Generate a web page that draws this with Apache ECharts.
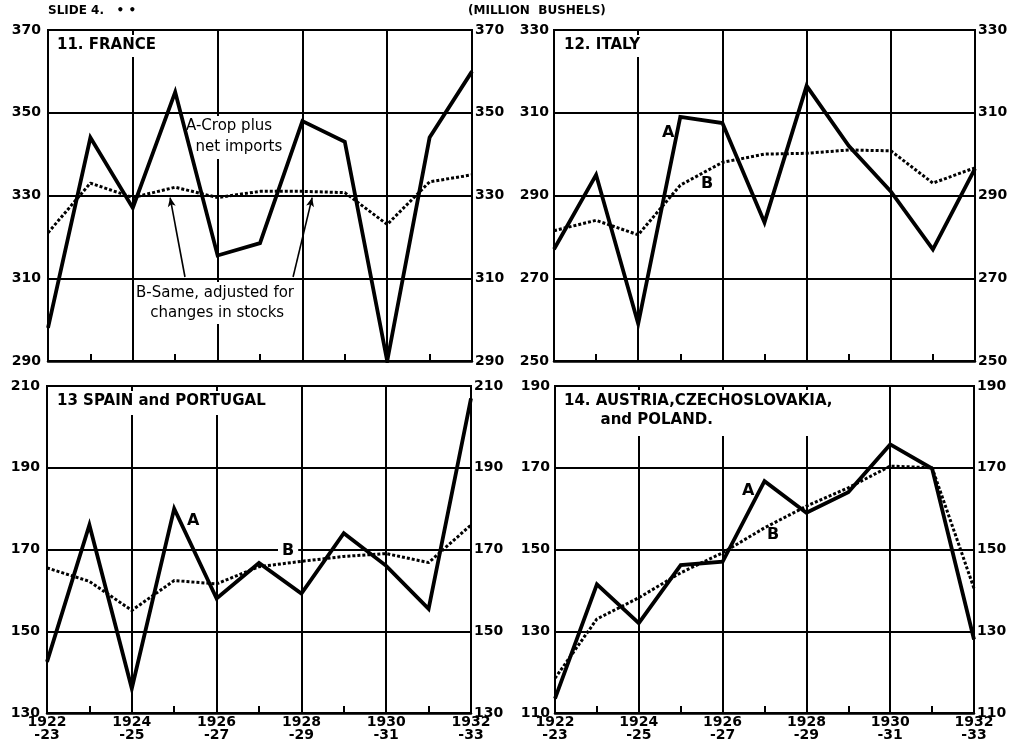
<!DOCTYPE html>
<html>
<head>
<meta charset="utf-8">
<script src="https://cdn.jsdelivr.net/npm/echarts@6/dist/echarts.min.js"></script>
<style>
html,body{margin:0;padding:0;background:#fff;}
#c{width:1022px;height:751px;}
</style>
</head>
<body>
<div id="c"></div>
<script>
// ---- data ----
const years = [1922,1923,1924,1925,1926,1927,1928,1929,1930,1931,1932];
const tickYears = [1922,1924,1926,1928,1930,1932];
const tickLabels = ['1922\n-23','1924\n-25','1926\n-27','1928\n-29','1930\n-31','1932\n-33'];

const franceA  = [298,344,327,355,315.5,318.5,348,343,290,344,360];
const franceB  = [321,333,329.5,332,329.5,331,331,330.7,323,333.3,335];
const italyA   = [277,295,259,309,307.5,283.5,316.5,302,291,277,296.5];
const italyB   = [281.5,284,280.5,292.5,298,300,300.2,301,300.8,293,296.7];
const spainA   = [142.5,176,136,180,158,166.7,159.2,174,166,155.5,207];
const spainB   = [165.5,162.2,155.1,162.4,161.6,165.8,167.1,168.3,169,166.8,176];
const austriaA = [113.5,141.5,132,146.2,147,166.7,159,164,175.7,169.8,128];
const austriaB = [118.5,133,138.2,144.3,149.2,155.3,160.6,165.1,170.4,170,140.5];

const yMins = [290,250,130,110];
const yMaxs = [370,330,210,190];
const yStep = 20;

// ---- layout ----
const grids = [
  {left:48, top:30, width:424, height:331},
  {left:554, top:30, width:421, height:331},
  {left:47, top:386, width:424, height:327},
  {left:555, top:386, width:419, height:327}
];
const FONT = 'DejaVu Sans';
const seriesA = [franceA, italyA, spainA, austriaA];
const seriesB = [franceB, italyB, spainB, austriaB];

const pairs = arr => years.map((y,i)=>[y,arr[i]]);

const option = {
  animation:false,
  backgroundColor:'#fff',
  grid: grids.map(g=>Object.assign({show:true, borderColor:'#000', borderWidth:2, backgroundColor:'transparent'}, g)),
  xAxis: grids.map((g,i)=>({
    type:'value', gridIndex:i, min:1922, max:1932, interval:2,
    axisLine:{show:true, lineStyle:{color:'#000', width:2.5}},
    axisTick:{show:true, inside:true, length:7, lineStyle:{color:'#000', width:2}},
    minorTick:{show:true, splitNumber:2, length:7, lineStyle:{color:'#000', width:2}},
    splitLine:{show:true, lineStyle:{color:'#000', width:2}},
    axisLabel:{
      show: i>=2, margin:3, color:'#000', fontFamily:FONT, fontWeight:'bold', fontSize:14, lineHeight:13,
      formatter: v => { const k = tickYears.indexOf(v); return k>=0 ? tickLabels[k] : ''; }
    }
  })),
  yAxis: [].concat(...grids.map((g,i)=>[
    {
      type:'value', gridIndex:i, position:'left', min:yMins[i], max:yMaxs[i], interval:yStep,
      axisLine:{show:true, lineStyle:{color:'#000', width:2}},
      axisTick:{show:false},
      splitLine:{show:true, lineStyle:{color:'#000', width:2}},
      axisLabel:{margin:(i%2===0)?7:5, color:'#000', fontFamily:FONT, fontWeight:'bold', fontSize:14}
    },
    {
      type:'value', gridIndex:i, position:'right', min:yMins[i], max:yMaxs[i], interval:yStep,
      axisLine:{show:true, lineStyle:{color:'#000', width:2}},
      axisTick:{show:false},
      splitLine:{show:false},
      axisLabel:{margin:3, color:'#000', fontFamily:FONT, fontWeight:'bold', fontSize:14}
    }
  ])),
  series: [].concat(...grids.map((g,i)=>{
    const bSeries = {
      name:'B'+i, type:'line', xAxisIndex:i, yAxisIndex:i*2, data:pairs(seriesB[i]),
      symbol:'none', z:3,
      lineStyle:{color:'#000', width:3, type:[3,2]}
    };
    if(i===0){
      bSeries.markLine = {
        silent:true, symbol:['none','arrow'], symbolSize:[6,9],
        label:{show:false},
        lineStyle:{color:'#000', width:1.6, type:'solid'},
        data:[
          [{coord:[1925.23,310.3]},{coord:[1924.88,329.5]}],
          [{coord:[1927.78,310.3]},{coord:[1928.23,329.5]}]
        ]
      };
    }
    return [
      bSeries,
      {
        name:'A'+i, type:'line', xAxisIndex:i, yAxisIndex:i*2, data:pairs(seriesA[i]),
        symbol:'none', z:4,
        lineStyle:{color:'#000', width:3.8, join:'miter'}
      }
    ];
  })),
  graphic: [
    {type:'text', left:48, top:5, z:5, style:{text:'SLIDE 4.   • •', fill:'#000', font:'bold 12px "DejaVu Sans"'}},
    {type:'text', left:468, top:5, z:5, style:{text:'(MILLION  BUSHELS)', fill:'#000', font:'bold 12px "DejaVu Sans"'}},
    // panel titles
    {type:'text', left:54, top:35, z:1, style:{text:'11. FRANCE', fill:'#000', font:'bold 15px "DejaVu Sans"', backgroundColor:'#fff', padding:[3,3,4,3]}},
    {type:'text', left:561, top:35, z:1, style:{text:'12. ITALY', fill:'#000', font:'bold 15px "DejaVu Sans"', backgroundColor:'#fff', padding:[3,3,4,3]}},
    {type:'text', left:54, top:391, z:1, style:{text:'13 SPAIN and PORTUGAL', fill:'#000', font:'bold 15px "DejaVu Sans"', backgroundColor:'#fff', padding:[3,3,6,3]}},
    {type:'text', left:561, top:390, z:1, style:{text:'14. AUSTRIA,CZECHOSLOVAKIA,\n       and POLAND.', fill:'#000', font:'bold 15px "DejaVu Sans"', lineHeight:19, backgroundColor:'#fff', padding:[2,3,6,3]}},
    // France annotations
    {type:'text', left:184, top:116, z:1, style:{text:'A-Crop plus\n  net imports', fill:'#000', font:'15px "DejaVu Sans"', lineHeight:21, backgroundColor:'#fff', padding:[0,2,1,2]}},
    {type:'text', left:134, top:282, z:1, style:{text:'B-Same, adjusted for\n   changes in stocks', fill:'#000', font:'15px "DejaVu Sans"', lineHeight:20, backgroundColor:'#fff', padding:[1,2]}},
    // series labels
    {type:'text', left:662, top:125, z:1, style:{text:'A', fill:'#000', font:'bold 16px "DejaVu Sans"'}},
    {type:'text', left:701, top:176, z:1, style:{text:'B', fill:'#000', font:'bold 16px "DejaVu Sans"'}},
    {type:'text', left:187, top:513, z:1, style:{text:'A', fill:'#000', font:'bold 16px "DejaVu Sans"'}},
    {type:'text', left:278, top:543, z:1, style:{text:'B', fill:'#000', font:'bold 16px "DejaVu Sans"', backgroundColor:'#fff', padding:[0,4]}},
    {type:'text', left:742, top:483, z:1, style:{text:'A', fill:'#000', font:'bold 16px "DejaVu Sans"'}},
    {type:'text', left:767, top:527, z:1, style:{text:'B', fill:'#000', font:'bold 16px "DejaVu Sans"'}}
  ]
};

const chart = echarts.init(document.getElementById('c'), null, {renderer:'canvas'});
chart.setOption(option);
</script>
</body>
</html>
